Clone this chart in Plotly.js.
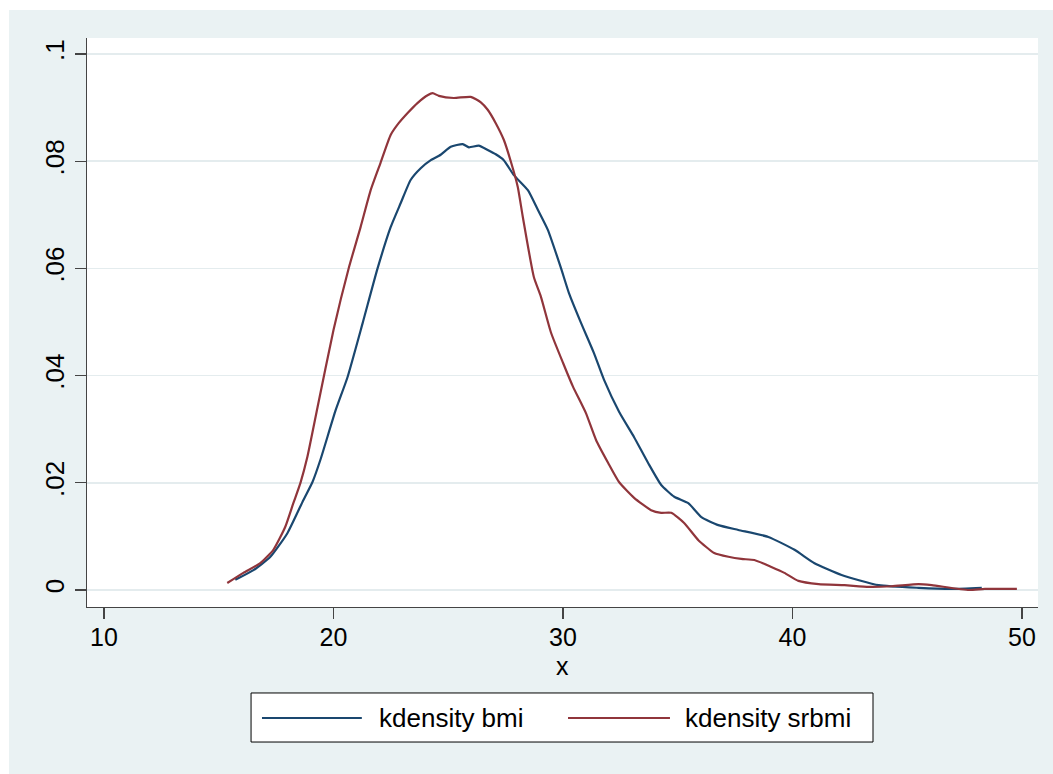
<!DOCTYPE html>
<html>
<head>
<meta charset="utf-8">
<script src="https://cdn.plot.ly/plotly-3.0.1.min.js"></script>
<style>
  html, body { margin: 0; padding: 0; background: #ffffff; }
  #chart { position: absolute; left: 9px; top: 10px; width: 1044px; height: 764px; }
</style>
</head>
<body>
<div id="chart"></div>
<script>
// kdensity bmi
const bmiX = [15.72, 16.51, 17.25, 17.99, 18.69, 19.08, 19.43, 20.09, 20.61, 21.27, 21.92, 22.49, 22.93, 23.36, 23.80,
  24.24, 24.67, 25.11, 25.63, 25.90, 26.33, 26.72, 27.07, 27.42, 27.86, 28.47, 28.91, 29.34, 29.91, 30.26, 30.79,
  31.35, 31.79, 32.45, 33.10, 33.71, 34.28, 34.85, 35.46, 36.03, 36.77, 37.64, 38.95, 40.09, 40.96, 42.14, 43.76,
  45.50, 46.94, 48.25];
const bmiY = [0.0019, 0.0037, 0.0062, 0.0106, 0.0168, 0.0201, 0.0243, 0.0335, 0.0397, 0.0498, 0.0600, 0.0677, 0.0722, 0.0765, 0.0787,
  0.0802, 0.0812, 0.0827, 0.0832, 0.0826, 0.0829, 0.0821, 0.0813, 0.0802, 0.0774, 0.0746, 0.0709, 0.0672, 0.0601, 0.0554, 0.0498,
  0.0442, 0.0392, 0.0332, 0.0285, 0.0237, 0.0196, 0.0174, 0.0162, 0.0136, 0.0121, 0.0112, 0.0099, 0.0075, 0.0050, 0.0028, 0.0009,
  0.0004, 0.0002, 0.0004];

// kdensity srbmi
const srbmiX = [15.37, 16.07, 16.81, 17.38, 17.90, 18.25, 18.56, 18.86, 19.30, 20.00, 20.66, 21.18, 21.62, 22.05, 22.49,
  22.84, 23.23, 23.67, 24.10, 24.32, 24.59, 25.24, 25.98, 26.42, 26.72, 27.07, 27.42, 27.73, 28.03, 28.25, 28.73,
  29.04, 29.48, 30.00, 30.44, 31.00, 31.44, 31.97, 32.45, 33.10, 33.84, 34.28, 34.72, 35.28, 35.90, 36.59, 37.21,
  37.77, 38.34, 39.08, 39.65, 40.26, 41.14, 42.27, 43.32, 44.32, 45.50, 46.07, 47.69, 48.38, 49.78];
const srbmiY = [0.0013, 0.0032, 0.0050, 0.0075, 0.0118, 0.0162, 0.0200, 0.0248, 0.0340, 0.0485, 0.0600, 0.0677, 0.0746, 0.0797, 0.0849,
  0.0871, 0.0890, 0.0909, 0.0923, 0.0927, 0.0922, 0.0918, 0.0920, 0.0910, 0.0896, 0.0871, 0.0840, 0.0799, 0.0752, 0.0696, 0.0584,
  0.0547, 0.0480, 0.0424, 0.0379, 0.0330, 0.0280, 0.0237, 0.0201, 0.0172, 0.0149, 0.0144, 0.0144, 0.0125, 0.0093, 0.0069, 0.0062,
  0.0058, 0.0056, 0.0043, 0.0032, 0.0017, 0.0011, 0.0009, 0.0006, 0.0007, 0.0011, 0.0009, 0.0000, 0.0002, 0.0002];

const seriesNames = ["kdensity bmi", "kdensity srbmi"];
const seriesColors = ["#1a476f", "#90353b"];

const xTicks = [10, 20, 30, 40, 50];
const yTicks = [0, 0.02, 0.04, 0.06, 0.08, 0.1];
const yTickText = ["0", ".02", ".04", ".06", ".08", ".1"];
const xTitle = "x";

const FONT = "Liberation Sans, Arial, sans-serif";

const traces = [
  { x: bmiX, y: bmiY, name: seriesNames[0], type: "scatter", mode: "lines",
    line: { color: seriesColors[0], width: 2.2, shape: "spline", smoothing: 0.5 } },
  { x: srbmiX, y: srbmiY, name: seriesNames[1], type: "scatter", mode: "lines",
    line: { color: seriesColors[1], width: 2.2, shape: "spline", smoothing: 0.5 } }
];

// manual legend (Stata style): box, sample lines, labels
const legendShapes = [
  { type: "rect", xref: "paper", yref: "paper", x0: 0.1725, x1: 0.8265, y0: -0.2373, y1: -0.1511,
    fillcolor: "#ffffff", line: { color: "#000000", width: 1 } },
  { type: "line", xref: "paper", yref: "paper", x0: 0.184, x1: 0.289, y0: -0.1951, y1: -0.1951,
    line: { color: seriesColors[0], width: 2.2 } },
  { type: "line", xref: "paper", yref: "paper", x0: 0.5058, x1: 0.613, y0: -0.1951, y1: -0.1951,
    line: { color: seriesColors[1], width: 2.2 } }
];
const annotations = [
  { xref: "paper", yref: "paper", x: 0.305, y: -0.1951, xanchor: "left", yanchor: "middle",
    text: seriesNames[0], showarrow: false, font: { family: FONT, size: 26, color: "#000" } },
  { xref: "paper", yref: "paper", x: 0.627, y: -0.1951, xanchor: "left", yanchor: "middle",
    text: seriesNames[1], showarrow: false, font: { family: FONT, size: 26, color: "#000" } },
  // x-axis title
  { xref: "paper", yref: "paper", x: 0.5, y: -0.1037, xanchor: "center", yanchor: "middle",
    text: xTitle, showarrow: false, font: { family: FONT, size: 25, color: "#000" } }
];

const layout = {
  width: 1044, height: 764,
  paper_bgcolor: "#eaf2f3",
  plot_bgcolor: "#ffffff",
  margin: { l: 78, r: 15, t: 28, b: 167 },
  showlegend: false,
  font: { family: FONT, size: 25, color: "#000" },
  xaxis: {
    range: [9.258, 50.70],
    tickvals: xTicks,
    ticktext: xTicks.map(String),
    ticks: "outside", ticklen: 11, tickwidth: 1.2, tickcolor: "#444",
    showline: true, linecolor: "#444", linewidth: 1.2,
    showgrid: false, zeroline: false,
    ticklabelstandoff: -3,
    tickfont: { family: FONT, size: 25, color: "#000" }
  },
  yaxis: {
    range: [-0.00317, 0.10299],
    tickvals: yTicks,
    ticktext: yTickText,
    tickangle: -90,
    ticks: "outside", ticklen: 11, tickwidth: 1.2, tickcolor: "#444",
    showline: true, linecolor: "#444", linewidth: 1.2,
    showgrid: true, gridcolor: "#e4ecee", gridwidth: 1.5,
    zeroline: false,
    tickfont: { family: FONT, size: 26, color: "#000" }
  },
  shapes: legendShapes,
  annotations: annotations
};

Plotly.newPlot("chart", traces, layout, { displayModeBar: false, staticPlot: true });
</script>
</body>
</html>
